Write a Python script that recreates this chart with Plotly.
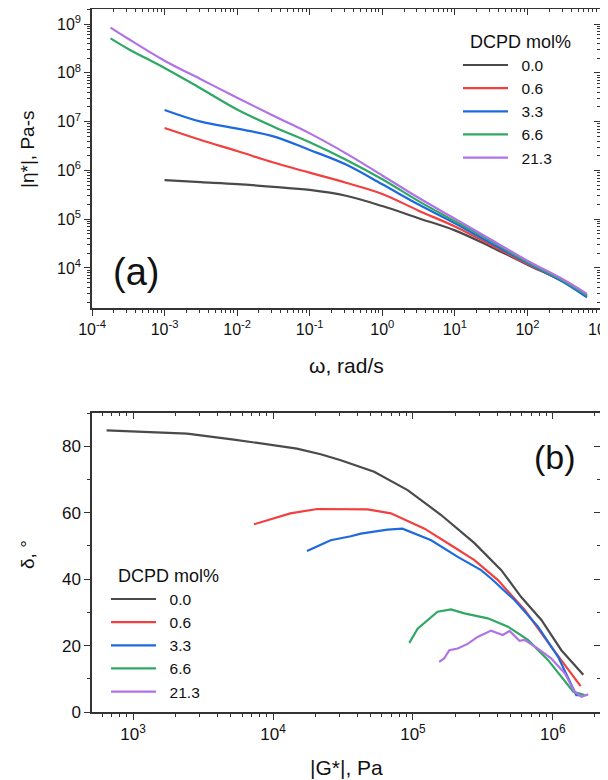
import plotly.graph_objects as go

# ---------------- data ----------------
series_names = ["0.0", "0.6", "3.3", "6.6", "21.3"]
colors = ["#4a4a4a", "#f24040", "#1d6ae0", "#2fa864", "#b072e6"]

# (a) complex viscosity vs angular frequency
w_short = [1e-3, 3.16e-3, 1e-2, 3.16e-2, 0.1, 0.316, 1, 3.16, 10, 31.6, 100, 316, 660]
w_long = [1.8e-4, 3.16e-4, 1e-3, 3.16e-3, 1e-2, 3.16e-2, 0.1, 0.316, 1, 3.16, 10, 31.6, 100, 316, 660]
eta_00 = [6.31e5, 5.75e5, 5.25e5, 4.62e5, 3.98e5, 3.02e5, 1.86e5, 1.05e5, 5.9e4, 2.7e4, 1.17e4, 5.2e3, 2.7e3]
eta_06 = [7.4e6, 4.2e6, 2.5e6, 1.45e6, 9.0e5, 5.6e5, 3.3e5, 1.5e5, 7.1e4, 2.95e4, 1.2e4, 5.2e3, 2.63e3]
eta_33 = [1.74e7, 1.0e7, 7.2e6, 5.0e6, 2.63e6, 1.32e6, 5.2e5, 2.0e5, 8.3e4, 3.2e4, 1.26e4, 5.1e3, 2.5e3]
eta_66 = [5.1e8, 3.1e8, 1.26e8, 4.8e7, 1.78e7, 7.9e6, 3.8e6, 1.66e6, 6.6e5, 2.35e5, 9.1e4, 3.55e4, 1.32e4, 5.4e3, 2.75e3]
eta_213 = [8.5e8, 5.0e8, 1.78e8, 7.4e7, 3.1e7, 1.32e7, 5.75e6, 2.24e6, 7.9e5, 2.75e5, 1.02e5, 3.8e4, 1.41e4, 5.75e3, 2.95e3]

# (b) phase angle vs complex modulus (van Gurp-Palmen)
G_00 = [646, 1000, 2430, 5250, 14800, 21900, 30500, 52800, 91600, 1.59e5, 2.74e5, 4.28e5, 5.94e5, 8.28e5, 1.15e6, 1.65e6]
d_00 = [84.8, 84.4, 83.8, 82.0, 79.3, 77.6, 75.8, 72.3, 66.8, 59.3, 50.9, 42.7, 34.6, 27.7, 18.6, 11.2]
G_06 = [7300, 13300, 20700, 30500, 47400, 69500, 1.21e5, 1.87e5, 2.75e5, 4.05e5, 6.30e5, 9.75e5, 1.29e6, 1.58e6]
d_06 = [56.5, 59.8, 61.1, 61.1, 61.0, 59.8, 55.2, 50.2, 45.7, 39.7, 30.7, 19.6, 12.6, 7.8]
G_33 = [17500, 25800, 36000, 42400, 65800, 84100, 1.35e5, 2.09e5, 3.07e5, 3.62e5, 5.32e5, 7.83e5, 1.09e6, 1.32e6, 1.47e6, 1.6e6]
d_33 = [48.5, 51.7, 52.9, 53.7, 54.9, 55.2, 51.7, 46.7, 42.7, 40.2, 33.7, 25.7, 16.6, 9.5, 5.1, 5.1]
G_66 = [94200, 1.08e5, 1.50e5, 1.87e5, 2.33e5, 3.43e5, 4.78e5, 6.64e5, 9.25e5, 1.15e6, 1.40e6, 1.69e6]
d_66 = [20.8, 25.1, 30.2, 30.9, 29.7, 28.2, 25.7, 21.7, 15.6, 10.6, 6.1, 5.1]
G_213 = [1.54e5, 1.67e5, 1.82e5, 2.09e5, 2.46e5, 2.90e5, 3.62e5, 4.39e5, 4.90e5, 5.78e5, 6.27e5, 7.83e5, 9.75e5, 1.22e6, 1.43e6, 1.60e6, 1.79e6]
d_213 = [15.1, 16.1, 18.6, 19.1, 20.5, 22.6, 24.5, 23.2, 24.4, 21.4, 21.7, 19.1, 16.1, 11.6, 6.1, 4.6, 5.3]

# tick values / labels
top_xtickvals = [1e-4, 1e-3, 1e-2, 1e-1, 1, 10, 100, 1000]
top_xticktext = ["10<sup>-4</sup>", "10<sup>-3</sup>", "10<sup>-2</sup>", "10<sup>-1</sup>",
                 "10<sup>0</sup>", "10<sup>1</sup>", "10<sup>2</sup>", "10<sup>3</sup>"]
top_ytickvals = [1e4, 1e5, 1e6, 1e7, 1e8, 1e9]
top_yticktext = ["10<sup>4</sup>", "10<sup>5</sup>", "10<sup>6</sup>", "10<sup>7</sup>",
                 "10<sup>8</sup>", "10<sup>9</sup>"]
bot_xtickvals = [1e3, 1e4, 1e5, 1e6]
bot_xticktext = ["10<sup>3</sup>", "10<sup>4</sup>", "10<sup>5</sup>", "10<sup>6</sup>"]

top_x = [w_short, w_short, w_short, w_long, w_long]
top_y = [eta_00, eta_06, eta_33, eta_66, eta_213]
bot_x = [G_00, G_06, G_33, G_66, G_213]
bot_y = [d_00, d_06, d_33, d_66, d_213]

# ---------------- figure ----------------
FONT = "Liberation Sans, Arial, sans-serif"
AX = "#333333"
TXT = "#111111"
NB = "\u00a0\u00a0"   # small gap between legend sample and label

fig = go.Figure()
for i, name in enumerate(series_names):
    fig.add_trace(go.Scatter(x=top_x[i], y=top_y[i], mode="lines", name=NB + name,
                             line=dict(color=colors[i], width=2.2, shape="spline", smoothing=1.0),
                             xaxis="x", yaxis="y", legend="legend"))
for i, name in enumerate(series_names):
    fig.add_trace(go.Scatter(x=bot_x[i], y=bot_y[i], mode="lines", name=NB + name,
                             line=dict(color=colors[i], width=2.2),
                             xaxis="x2", yaxis="y2", legend="legend2"))
# empty traces so the inward-pointing mirror-tick axes get drawn
fig.add_trace(go.Scatter(x=[], y=[], xaxis="x3", yaxis="y3", showlegend=False, hoverinfo="skip"))
fig.add_trace(go.Scatter(x=[], y=[], xaxis="x4", yaxis="y4", showlegend=False, hoverinfo="skip"))

def main_axis(size, **kw):
    d = dict(showgrid=False, zeroline=False, showline=True, linecolor=AX, linewidth=1.5,
             mirror=True, ticks="outside", ticklen=6, tickwidth=1.3, tickcolor=AX,
             tickfont=dict(family=FONT, size=size, color=TXT), automargin=False)
    d.update(kw)
    return d

def mirror_axis(**kw):
    d = dict(showgrid=False, zeroline=False, showline=False, ticks="inside", ticklen=6,
             tickwidth=1.3, tickcolor=AX, showticklabels=False, automargin=False)
    d.update(kw)
    return d

minor_log_out = dict(ticks="outside", ticklen=3, tickwidth=1, tickcolor=AX, dtick="D1", showgrid=False)
minor_log_in = dict(ticks="inside", ticklen=3, tickwidth=1, tickcolor=AX, dtick="D1", showgrid=False)
minor_lin_out = dict(ticks="outside", ticklen=3, tickwidth=1, tickcolor=AX, dtick=10, showgrid=False)
minor_lin_in = dict(ticks="inside", ticklen=3, tickwidth=1, tickcolor=AX, dtick=10, showgrid=False)

top_dom = [0.5747, 1.0]
bot_dom = [0.0, 0.4253]
xr_top = [-4, 3]
yr_top = [3.18, 9.31]
xr_bot = [2.706, 6.337]
yr_bot = [0, 90]

# the page body has an 8 px margin, so the figure is offset by 8 px in the window
OFF = 8
W, H = 608 - OFF, 780 - OFF
L, R, T, B = 92 - OFF, 8, 9 - OFF, 68
PW, PH = W - L - R, H - T - B

def px(xs):  # window x -> paper fraction
    return (xs - OFF - L) / PW

def py(ys):  # window y -> paper fraction
    return (H - B - (ys - OFF)) / PH

legfont = dict(family=FONT, size=15.5, color=TXT)
legtitle = dict(text="\u00a0\u00a0DCPD mol%", font=dict(family=FONT, size=18, color=TXT))

fig.update_layout(
    width=W, height=H,
    margin=dict(l=L, r=R, t=T, b=B, autoexpand=False),
    paper_bgcolor="white", plot_bgcolor="white",
    font=dict(family=FONT, color=TXT),
    showlegend=True,
    xaxis=main_axis(16, type="log", range=xr_top, tickvals=top_xtickvals, ticktext=top_xticktext,
                    minor=minor_log_out, anchor="y", ticklabeloverflow="allow"),
    yaxis=main_axis(16, type="log", range=yr_top, tickvals=top_ytickvals, ticktext=top_yticktext,
                    minor=minor_log_out, domain=top_dom, anchor="x"),
    xaxis3=mirror_axis(type="log", range=xr_top, tickvals=top_xtickvals, minor=minor_log_in,
                       overlaying="x", side="top", anchor="y"),
    yaxis3=mirror_axis(type="log", range=yr_top, tickvals=top_ytickvals, minor=minor_log_in,
                       overlaying="y", side="right", anchor="x"),
    xaxis2=main_axis(17, type="log", range=xr_bot, tickvals=bot_xtickvals, ticktext=bot_xticktext,
                     minor=minor_log_out, anchor="y2"),
    yaxis2=main_axis(17, range=yr_bot, dtick=20, domain=bot_dom, anchor="x2", minor=minor_lin_out),
    xaxis4=mirror_axis(type="log", range=xr_bot, tickvals=bot_xtickvals, minor=minor_log_in,
                       overlaying="x2", side="top", anchor="y2"),
    yaxis4=mirror_axis(range=yr_bot, dtick=20, minor=minor_lin_in,
                       overlaying="y2", side="right", anchor="x2"),
    legend=dict(x=px(458), y=py(25), xanchor="left", yanchor="top", bgcolor="rgba(0,0,0,0)",
                font=legfont, title=legtitle, itemwidth=45, tracegroupgap=0),
    legend2=dict(x=px(106), y=py(559), xanchor="left", yanchor="top", bgcolor="rgba(0,0,0,0)",
                 font=legfont, title=legtitle, itemwidth=45, tracegroupgap=0),
    annotations=[
        dict(text="(a)", xref="paper", yref="paper", x=px(136), y=py(272),
             xanchor="center", yanchor="middle", showarrow=False,
             font=dict(family=FONT, size=38, color=TXT)),
        dict(text="(b)", xref="paper", yref="paper", x=px(555), y=py(457),
             xanchor="center", yanchor="middle", showarrow=False,
             font=dict(family=FONT, size=34, color=TXT)),
        dict(text="ω, rad/s", xref="paper", yref="paper", x=px(346), y=py(365),
             xanchor="center", yanchor="middle", showarrow=False,
             font=dict(family=FONT, size=21, color=TXT)),
        dict(text="|η*|, Pa-s", xref="paper", yref="paper", x=px(27), y=py(150),
             xanchor="center", yanchor="middle", showarrow=False, textangle=-90,
             font=dict(family=FONT, size=19, color=TXT)),
        dict(text="|G*|, Pa", xref="paper", yref="paper", x=px(346), y=py(767),
             xanchor="center", yanchor="middle", showarrow=False,
             font=dict(family=FONT, size=21, color=TXT)),
        dict(text="δ, °", xref="paper", yref="paper", x=px(27), y=py(555),
             xanchor="center", yanchor="middle", showarrow=False, textangle=-90,
             font=dict(family=FONT, size=19, color=TXT)),
    ],
)

fig.write_html("out.html")
